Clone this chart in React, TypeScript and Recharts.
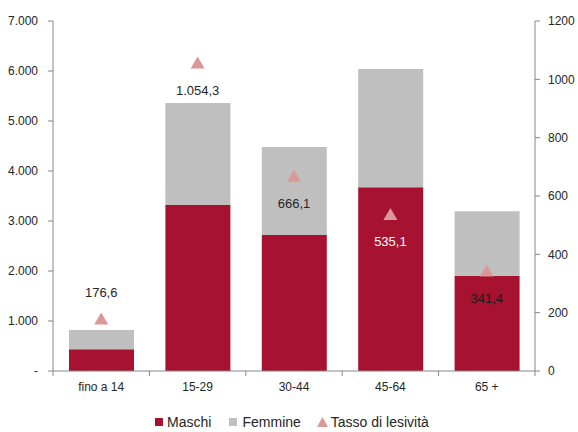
import React from "react";
import {
  ComposedChart,
  Bar,
  Line,
  XAxis,
  YAxis,
  Legend,
  LabelList,
} from "recharts";

const categories = ["fino a 14", "15-29", "30-44", "45-64", "65 +"];
const maschi = [435, 3320, 2720, 3675, 1905];
const femmine = [385, 2040, 1760, 2365, 1290];
const tasso = [176.6, 1054.3, 666.1, 535.1, 341.4];
const leftTicks = [0, 1000, 2000, 3000, 4000, 5000, 6000, 7000];
const rightTicks = [0, 200, 400, 600, 800, 1000, 1200];

// label placement / colour per point (style, not data)
const labelAbove = [true, false, false, false, false];
const labelColors = ["#262626", "#262626", "#262626", "#ffffff", "#1a1a1a"];

const RED = "#A6122F";
const GREY = "#BFBFBF";
const PINK = "#DA9896";
const AXIS = "#868686";
const FONT = "'Liberation Sans', Arial, sans-serif";

const data = categories.map((c, i) => ({
  name: c,
  maschi: maschi[i],
  femmine: femmine[i],
  tasso: tasso[i],
}));

const fmtThousands = (v: number) =>
  v === 0 ? "-" : v.toString().replace(/\B(?=(\d{3})+(?!\d))/g, ".");

const fmtRate = (v: number) => {
  const [int, dec] = v.toFixed(1).split(".");
  return fmtThousands(Number(int)) + "," + dec;
};

const PLOT_LEFT = 53;
const PLOT_RIGHT = 535;
const BAND = (PLOT_RIGHT - PLOT_LEFT) / categories.length;

const XTick = (props: any) => {
  const { x, y, payload, index } = props;
  const axisY = y - 8;
  return (
    <g>
      <line x1={x - BAND / 2} x2={x - BAND / 2} y1={axisY} y2={axisY + 5} stroke={AXIS} />
      {index === categories.length - 1 && (
        <line x1={x + BAND / 2} x2={x + BAND / 2} y1={axisY} y2={axisY + 5} stroke={AXIS} />
      )}
      <text x={x} y={axisY + 20} textAnchor="middle" fontSize={12} fill="#262626" fontFamily={FONT}>
        {payload.value}
      </text>
    </g>
  );
};

const Triangle = (props: any) => {
  const { cx, cy } = props;
  if (cx == null || cy == null) return null;
  return (
    <path
      d={`M${cx},${cy - 7} L${cx + 7},${cy + 5} L${cx - 7},${cy + 5} Z`}
      fill={PINK}
    />
  );
};

const RateLabel = (props: any) => {
  const { x, y, value, index } = props;
  const dy = labelAbove[index] ? -27 : 27;
  return (
    <text
      x={x}
      y={y + dy}
      textAnchor="middle"
      dominantBaseline="central"
      fontSize={13}
      fill={labelColors[index]}
      fontFamily={FONT}
    >
      {fmtRate(value)}
    </text>
  );
};

const LegendContent = () => (
  <div
    style={{
      display: "flex",
      justifyContent: "center",
      alignItems: "center",
      height: 36,
      paddingTop: 16,
      paddingLeft: 6,
      boxSizing: "border-box",
      fontFamily: FONT,
      fontSize: 14,
      color: "#262626",
    }}
  >
    <span style={{ display: "flex", alignItems: "center", marginRight: 18 }}>
      <span style={{ width: 8, height: 8, background: RED, marginRight: 4 }} />
      Maschi
    </span>
    <span style={{ display: "flex", alignItems: "center", marginRight: 16 }}>
      <span style={{ width: 8, height: 8, background: GREY, marginRight: 5 }} />
      Femmine
    </span>
    <span style={{ display: "flex", alignItems: "center" }}>
      <svg width={11} height={10} style={{ marginRight: 3 }}>
        <path d="M5.5,0 L11,10 L0,10 Z" fill={PINK} />
      </svg>
      Tasso di lesività
    </span>
  </div>
);

export default function App() {
  return (
    <div style={{ position: "absolute", left: 0, top: 0, width: 578, height: 432, background: "#fff" }}>
      <ComposedChart
        width={578}
        height={432}
        data={data}
        margin={{ top: 21, right: 0, bottom: 0, left: 0 }}
      >
        <XAxis
          dataKey="name"
          xAxisId={0}
          height={25}
          axisLine={{ stroke: AXIS }}
          tickLine={false}
          tick={<XTick />}
          interval={0}
        />
        <YAxis
          yAxisId="left"
          orientation="left"
          width={53}
          domain={[0, 7000]}
          ticks={leftTicks}
          tickFormatter={fmtThousands}
          axisLine={{ stroke: AXIS }}
          tickLine={{ stroke: AXIS }}
          tickSize={5}
          tickMargin={10}
          tick={{ fontSize: 12, fill: "#262626", fontFamily: FONT }}
          interval={0}
        />
        <YAxis
          yAxisId="right"
          orientation="right"
          width={43}
          domain={[0, 1200]}
          ticks={rightTicks}
          axisLine={{ stroke: AXIS }}
          tickLine={{ stroke: AXIS }}
          tickSize={5}
          tickMargin={8}
          tick={{ fontSize: 12, fill: "#262626", fontFamily: FONT, textAnchor: "start" }}
          interval={0}
        />
        <Legend verticalAlign="bottom" height={36} content={<LegendContent />} />
        <Bar
          yAxisId="left"
          dataKey="maschi"
          name="Maschi"
          stackId="a"
          fill={RED}
          barSize={65}
          isAnimationActive={false}
        />
        <Bar
          yAxisId="left"
          dataKey="femmine"
          name="Femmine"
          stackId="a"
          fill={GREY}
          barSize={65}
          isAnimationActive={false}
        />
        <Line
          yAxisId="right"
          dataKey="tasso"
          name="Tasso di lesività"
          stroke="none"
          dot={<Triangle />}
          activeDot={false}
          isAnimationActive={false}
        >
          <LabelList dataKey="tasso" content={<RateLabel />} />
        </Line>
      </ComposedChart>
    </div>
  );
}
